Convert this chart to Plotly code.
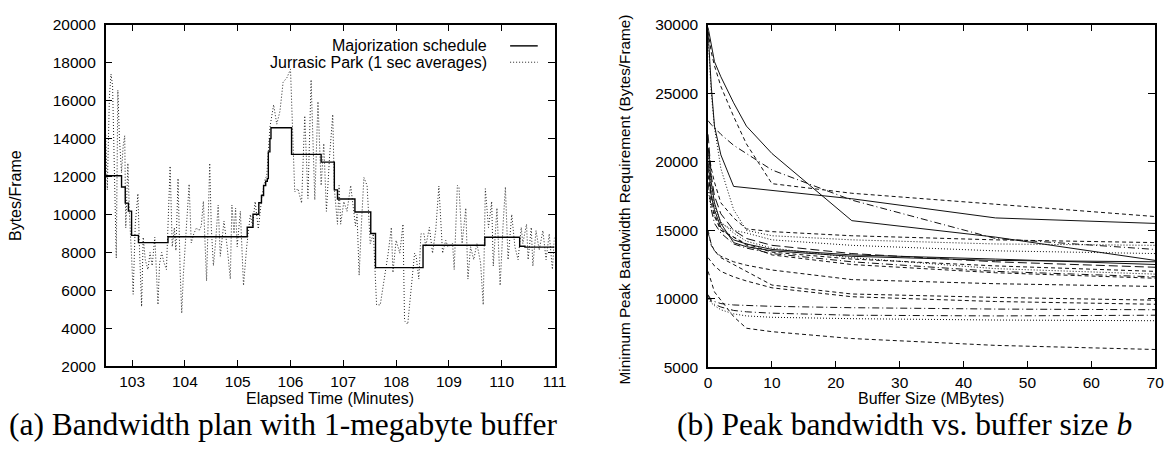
import plotly.graph_objects as go

# ---------------- Left panel: bandwidth plan ----------------
maj_time = [102.5, 102.8, 102.87, 102.93, 102.99, 103.12, 103.68, 105.18, 105.29, 105.40,
            105.45, 105.49, 105.53, 105.56, 105.58, 105.61, 105.63, 106.02, 106.58, 106.83,
            106.89, 107.22, 107.52, 107.61, 108.51, 109.68, 110.34, 110.44, 111.0]
maj_bytes = [12040, 11450, 10600, 10180, 8900, 8520, 8830, 9330, 10010, 10620,
             11000, 11530, 11750, 11890, 13300, 14000, 14570, 13170, 12760, 11300,
             10820, 10130, 9000, 7200, 8380, 8800, 8330, 8280, 8280]

jp_time = [102.50, 102.53, 102.57, 102.60, 102.63, 102.66, 102.70, 102.73, 102.76, 102.80,
           102.83, 102.86, 102.88, 102.92, 102.95, 102.99, 103.02, 103.06, 103.11, 103.14,
           103.18, 103.21, 103.25, 103.30, 103.34, 103.38, 103.43, 103.49, 103.52, 103.56,
           103.60, 103.65, 103.72, 103.76, 103.80, 103.83, 103.87, 103.91, 103.94, 103.97,
           104.03, 104.08, 104.12, 104.17, 104.22, 104.27, 104.31, 104.35, 104.41, 104.47,
           104.50, 104.54, 104.58, 104.63, 104.67, 104.71, 104.74, 104.80, 104.86, 104.89,
           104.93, 104.96, 104.99, 105.05, 105.11, 105.17, 105.21, 105.24, 105.28, 105.33,
           105.39, 105.46, 105.52, 105.55, 105.61, 105.68, 105.74, 105.80, 105.86, 105.93,
           106.00, 106.04, 106.08, 106.14, 106.21, 106.27, 106.33, 106.39, 106.46, 106.52,
           106.58, 106.63, 106.68, 106.74, 106.80, 106.83, 106.89, 106.92, 106.95, 107.01,
           107.07, 107.14, 107.23, 107.26, 107.30, 107.34, 107.39, 107.45, 107.51, 107.57,
           107.63, 107.70, 107.76, 107.85, 107.91, 107.94, 108.00, 108.07, 108.13, 108.16,
           108.22, 108.29, 108.35, 108.38, 108.43, 108.47, 108.53, 108.56, 108.63, 108.69,
           108.75, 108.81, 108.88, 108.94, 108.98, 109.07, 109.10, 109.16, 109.19, 109.25,
           109.32, 109.36, 109.41, 109.47, 109.53, 109.60, 109.65, 109.69, 109.75, 109.81,
           109.84, 109.91, 109.97, 110.03, 110.07, 110.12, 110.19, 110.25, 110.31, 110.37,
           110.40, 110.47, 110.50, 110.56, 110.59, 110.65, 110.71, 110.78, 110.84, 110.90,
           110.96, 111.00]
jp_bytes = [14200, 11300, 16200, 17400, 16800, 12000, 7700, 16550, 14000, 12200,
            13600, 14150, 9300, 12700, 10000, 7800, 5800, 9500, 11100, 8200,
            5150, 8800, 7600, 7100, 8000, 7300, 8800, 5250, 7400, 8000,
            7500, 7100, 12550, 8300, 9300, 8100, 11900, 7000, 4800, 6800,
            9650, 11600, 8500, 9000, 9300, 9150, 9400, 10700, 6500, 12700,
            9300, 7300, 8500, 10500, 7800, 8900, 9650, 8300, 6600, 10500,
            9000, 10340, 8300, 10170, 6260, 8300, 9200, 10000, 9400, 10680,
            9240, 11000, 11870, 12040, 14590, 15780, 14760, 15440, 16970, 17200,
            17650, 14000, 11190, 11360, 10600, 15200, 10850, 17100, 10770, 15950,
            11530, 13740, 10170, 13060, 15270, 11360, 9490, 11530, 9490, 10680,
            10170, 11530, 9400, 10000, 6800, 9320, 11950, 11530, 8470, 8980,
            5240, 5240, 6260, 7960, 9320, 6940, 8640, 7960, 9490, 4390,
            4220, 6260, 7960, 7800, 6600, 8980, 8980, 8300, 9320, 7960,
            9150, 11500, 7960, 8640, 8300, 8470, 7100, 11530, 11450, 8470,
            10340, 6600, 8300, 7620, 8470, 7450, 5240, 11360, 9320, 10680,
            7280, 10340, 6260, 9660, 11450, 7620, 10000, 8300, 7620, 9320,
            8470, 9490, 7620, 9320, 7280, 9150, 8130, 9150, 7620, 8980,
            7110, 8810]

left_xticks = [103, 104, 105, 106, 107, 108, 109, 110, 111]
left_yticks = [2000, 4000, 6000, 8000, 10000, 12000, 14000, 16000, 18000, 20000]

# ---------------- Right panel: peak bandwidth vs buffer ----------------
buffer_mb = [0, 0.5, 1, 2, 4, 6, 10, 22.5, 45, 70]
peak_bw = [
    [29800, 28400, 27300, 26200, 24300, 22600, 20600, 15700, 14500, 12800],  # A solid
    [29500, 25500, 22600, 20500, 18200, 18100, 17900, 17300, 15900, 15500],  # B solid
    [29500, 28000, 27000, 25500, 23300, 21300, 18400, 17700, 16900, 16000],  # C dash
    [23000, 22700, 22500, 22000, 21200, 20600, 19400, 17200, 14400, 13600],  # D dashdot
    [29000, 25000, 22500, 19500, 16500, 15000, 14600, 14300, 14000, 13900],  # E dot
    [21000, 19500, 18500, 17000, 15900, 15100, 14900, 14600, 14300, 14100],  # F dash
    [21000, 18500, 17000, 15500, 14100, 13800, 13500, 13100, 12800, 12700],  # G solid
    [20000, 17500, 16500, 15200, 14300, 14000, 13600, 13200, 12900, 12500],  # H solid
    [22000, 19000, 17500, 16200, 15000, 14400, 13900, 13300, 12700, 12300],  # I longdash
    [19500, 17000, 16000, 15000, 14500, 14000, 13400, 12900, 12400, 12000],  # J dash
    [20500, 18000, 16800, 15600, 14800, 14200, 13700, 13000, 12200, 11800],  # K dot
    [18500, 16500, 15500, 14800, 14000, 13700, 13300, 12700, 12000, 11600],  # L dashdot
    [19000, 17500, 16200, 15000, 14500, 13900, 13200, 12500, 11900, 11500],  # M dash
    [18000, 16500, 16000, 15500, 15000, 14800, 14300, 13900, 13500, 13300],  # N dot
    [15000, 13900, 13500, 13100, 12700, 12450, 12100, 11400, 11100, 10900],  # O dash
    [14800, 14000, 13500, 13000, 12500, 12000, 11000, 10350, 10100, 9900],   # P dash
    [13000, 12700, 12400, 12000, 11600, 11300, 10800, 10150, 9800, 9600],    # Q dash
    [10300, 9900, 9800, 9650, 9550, 9500, 9450, 9350, 9250, 9200],           # R dashdot
    [10200, 9800, 9600, 9400, 9150, 9050, 8950, 8800, 8750, 8800],           # S dashdot
    [10000, 9700, 9500, 9200, 8900, 8750, 8650, 8550, 8450, 8400],           # T dot
    [12000, 11200, 10500, 9900, 8700, 7850, 7600, 7100, 6600, 6300],         # U dash
]
curve_style = ['solid', 'solid', 'dash', 'dashdot', 'dot', 'dash', 'solid', 'solid', 'longdash',
               'dash', 'dot', 'dashdot', 'dash', 'dot', 'dash', 'dash', 'dash', 'dashdot',
               'dashdot', 'dot', 'dash']
right_xticks = [0, 10, 20, 30, 40, 50, 60, 70]
right_yticks = [5000, 10000, 15000, 20000, 25000, 30000]

dash_map = {'solid': 'solid', 'dash': '4px,3px', 'dot': '1px,2px',
            'dashdot': '7px,3px,1px,3px', 'longdash': '9px,4px'}

W, H = 1175, 452
def px(x):
    return x / W
def py(y):
    return 1 - y / H

fig = go.Figure()
fig.add_trace(go.Scatter(x=jp_time, y=jp_bytes, mode='lines', xaxis='x', yaxis='y',
                         line=dict(color='#222222', width=1, dash='1px,2px'), showlegend=False))
fig.add_trace(go.Scatter(x=maj_time, y=maj_bytes, mode='lines', xaxis='x', yaxis='y',
                         line=dict(color='black', width=1.4, shape='hv'), showlegend=False))
for vals, st in zip(peak_bw, curve_style):
    fig.add_trace(go.Scatter(x=buffer_mb, y=vals, mode='lines', xaxis='x2', yaxis='y2',
                             line=dict(color='#111111', width=1, dash=dash_map[st]), showlegend=False))

tickfont = dict(family='Liberation Sans, Arial, sans-serif', size=15.5, color='black')
ax = dict(showline=True, linecolor='black', linewidth=1.5, mirror='allticks', ticks='inside',
          ticklen=7, tickwidth=1, tickcolor='black', showgrid=False, zeroline=False,
          tickfont=tickfont, ticklabeloverflow='allow')

def tdef(vals):
    return dict(tickmode='array', tickvals=vals, ticktext=[str(v) for v in vals])

fig.update_layout(
    width=W, height=H, margin=dict(l=0, r=0, t=0, b=0),
    paper_bgcolor='white', plot_bgcolor='white', showlegend=False,
    xaxis=dict(ax, domain=[px(95), px(550)], range=[102.5, 111], anchor='y', **tdef(left_xticks)),
    yaxis=dict(ax, domain=[py(363), py(8)], range=[2000, 20000], anchor='x',
               ticklabelstandoff=5, **tdef(left_yticks)),
    xaxis2=dict(ax, domain=[px(705.7), px(1159)], range=[0, 70], anchor='y2', **tdef(right_xticks)),
    yaxis2=dict(ax, domain=[py(364), py(8)], range=[5000, 30000], anchor='x2',
                ticklabelstandoff=5, **tdef(right_yticks)),
)

labfont = dict(family='Liberation Sans, Arial, sans-serif', size=16, color='black')
ylabfont = dict(family='Liberation Sans, Arial, sans-serif', size=15.3, color='black')
capfont = dict(family='Liberation Serif, Times New Roman, serif', size=31.5, color='black')
ann = [
    dict(text='Elapsed Time (Minutes)', x=px(322), y=py(396), font=labfont),
    dict(text='Bytes/Frame', x=px(3), y=py(185), textangle=-90, font=labfont),
    dict(text='Buffer Size (MBytes)', x=px(932), y=py(396), font=labfont),
    dict(text='Minimum Peak Bandwidth Requirement (Bytes/Frame)', x=px(621), y=py(190),
         textangle=-90, font=ylabfont),
    dict(text='(a) Bandwidth plan with 1-megabyte buffer', x=px(275), y=py(423), font=capfont),
    dict(text='(b) Peak bandwidth vs. buffer size <i>b</i>', x=px(905), y=py(423), font=capfont),
    dict(text='Majorization schedule', x=px(484), y=py(30), xanchor='right', font=labfont),
    dict(text='Jurrasic Park (1 sec averages)', x=px(484), y=py(47), xanchor='right', font=labfont),
]
for a in ann:
    a.setdefault('xanchor', 'center')
    a.update(xref='paper', yref='paper', yanchor='middle', showarrow=False)
fig.update_layout(annotations=ann)

fig.update_layout(shapes=[
    dict(type='line', xref='paper', yref='paper', x0=px(505), x1=px(533), y0=py(30), y1=py(30),
         line=dict(color='black', width=1.4)),
    dict(type='line', xref='paper', yref='paper', x0=px(505), x1=px(533), y0=py(47), y1=py(47),
         line=dict(color='#222222', width=1, dash='1px,2px')),
])

fig.write_html('out.html')
